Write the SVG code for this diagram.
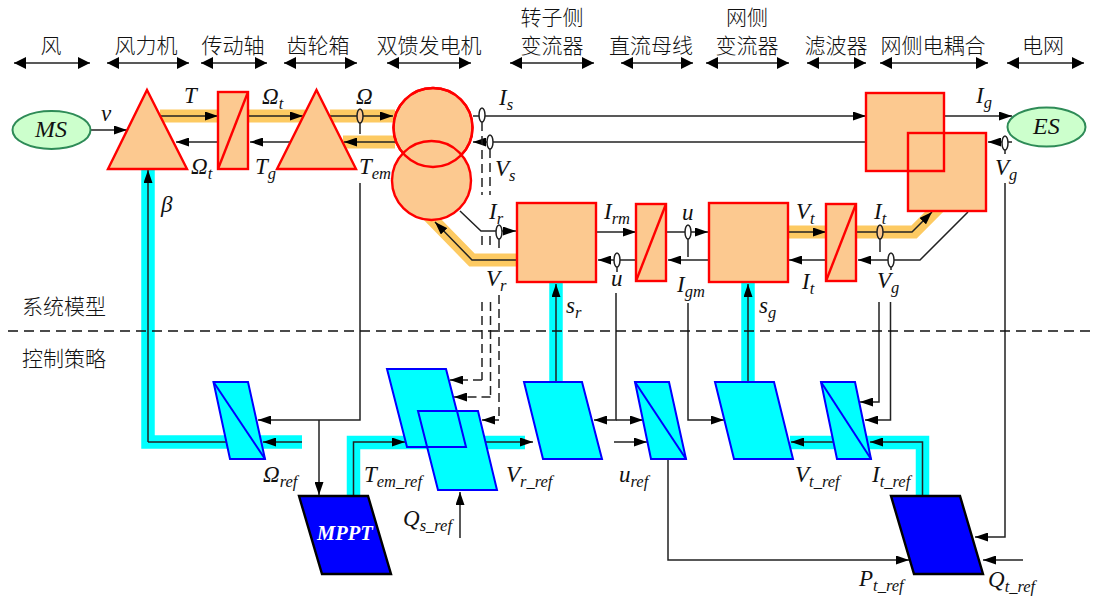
<svg xmlns="http://www.w3.org/2000/svg" width="1093" height="599" viewBox="0 0 1093 599">
<style>
text{font-family:"Liberation Serif","Noto Serif",serif;font-style:italic;fill:#111;font-size:23px}
.big{font-size:24px}
.sub{font-size:16.500px}
.cn{font-family:"Noto Sans CJK SC",sans-serif;font-style:normal;font-size:21px;font-weight:300;text-anchor:middle}
.pw{fill:#fcc990;stroke:#f00;stroke-width:2.400}
.ctl{fill:#0ff;stroke:#00f;stroke-width:2}
.dk{fill:#00f;stroke:#000;stroke-width:2.400}
.src{fill:#ccffcc;stroke:#2e8b57;stroke-width:2}
.or{fill:none;stroke:#fdca62;stroke-width:13}
.cy{fill:none;stroke:#0ff;stroke-width:13.500}
.l{fill:none;stroke:#222;stroke-width:1.500}
.a{marker-end:url(#ah)}
.d{stroke-dasharray:9 5}
.s{fill:#fff;stroke:#222;stroke-width:1.500}
.sy{fill:#fcc990;stroke:#222;stroke-width:1.500}
.ov{fill:none;stroke:#f00;stroke-width:2.400}
.w{marker-start:url(#wb);marker-end:url(#we)}
</style>
<defs>
<marker id="ah" markerUnits="userSpaceOnUse" markerWidth="14" markerHeight="9" refX="13" refY="4.500" orient="auto"><path d="M0,0L13,4.500L0,9Z" fill="#000"/></marker>
<marker id="we" markerUnits="userSpaceOnUse" markerWidth="13" markerHeight="13" refX="12" refY="6.500" orient="auto"><path d="M0,0.500L12,6.500L0,12.500Z" fill="#000"/></marker>
<marker id="wb" markerUnits="userSpaceOnUse" markerWidth="13" markerHeight="13" refX="0" refY="6.500" orient="auto"><path d="M12,0.500L0,6.500L12,12.500Z" fill="#000"/></marker>
</defs>
<g id="wide-paths">
<path class="or" d="M160,116H218M248,116H305M330,116H395M343,142H395M517,260H472L428,215M788,232H826M856,232H914L940,206"/>
<path class="cy" d="M148,170V442H302M353.500,496V442.500H525M556,283V382M748,283V382M790,442.500H922.500V496"/>
</g>
<g id="connectors">
<path class="l a" d="M90,130H127"/><path class="l a" d="M160,116H218"/><path class="l a" d="M248,116H303"/><path class="l a" d="M330,116H393"/>
<path class="l a" d="M395,142H344"/><path class="l a" d="M291,142H250"/><path class="l a" d="M218,142H176"/>
<path class="l a" d="M473,116H866"/><path class="l a" d="M866,142H473"/>
<path class="l a" d="M944,116H1012"/><path class="l a" d="M1012,142H988"/>
<path class="l d" d="M482,122V195M482,236V250M490,149V195M490,236V250M482,302V380"/><path class="l a d" d="M482,380H450"/>
<path class="l d" d="M490.500,302V397"/><path class="l a d" d="M490.500,397H454"/>
<path class="l d" d="M499,239V250M499,295V420"/><path class="l a d" d="M499,420H482"/>
<path class="l a" d="M460,211L481,231H516"/><path class="l a" d="M517,260H472L435,222"/>
<path class="l a" d="M596,232H636"/><path class="l a" d="M666,232H708"/><path class="l a" d="M708,260H668"/><path class="l a" d="M636,260H598"/>
<path class="l" d="M688,239V257M617,267V272M880,239V252M891,267V270M360,123V134M1005,149V154"/>
<path class="l a" d="M788,232H826"/><path class="l a" d="M856,232H912L932,212"/>
<path class="l a" d="M968,212L920,260H858"/><path class="l a" d="M826,260H789"/>
<path class="l a" d="M148,442V170"/><path class="l a" d="M556,382V284"/><path class="l a" d="M748,382V284"/>
<path class="l" d="M148,442H235"/><path class="l a" d="M302,442H263"/>
<path class="l a" d="M360,183V420H258"/><path class="l a" d="M319,420V495"/>
<path class="l a" d="M353.500,496V442H405"/><path class="l a" d="M478,442H533"/>
<path class="l a" d="M460,538V492"/>
<path class="l a" d="M616,293V420H594"/><path class="l a" d="M616,420H643"/><path class="l a" d="M614,442H647"/>
<path class="l a" d="M688,303V420H724"/>
<path class="l a" d="M879,302V402H860"/><path class="l a" d="M890.500,302V420H865"/>
<path class="l a" d="M922.500,496V442H870"/><path class="l a" d="M834,442H791"/>
<path class="l a" d="M1005,183V537H975"/><path class="l a" d="M1023,560H983"/>
<path class="l a" d="M668,459V560H909"/>
<path d="M8,331H1093" fill="none" stroke="#111" stroke-width="1.300" stroke-dasharray="10 6"/>
<g class="span">
<path class="l w" d="M14,63H90"/><path class="l w" d="M107,63H189"/><path class="l w" d="M201,63H267"/><path class="l w" d="M284,63H357"/><path class="l w" d="M387,63H471"/><path class="l w" d="M510,63H594"/><path class="l w" d="M621,63H693"/><path class="l w" d="M706,63H789"/><path class="l w" d="M807,63H866"/><path class="l w" d="M880,63H988"/><path class="l w" d="M1007,63H1084"/>
</g>
</g>
<g id="MS"><ellipse class="src" cx="51.500" cy="130" rx="39" ry="19"/><text class="big" x="35" y="137">MS</text></g>
<g id="ES"><ellipse class="src" cx="1046.500" cy="127" rx="39" ry="19.500"/><text class="big" x="1033" y="134">ES</text></g>
<g id="turbine"><path class="pw" d="M147,90L187,169H108Z"/></g>
<g id="shaft"><rect class="pw" x="218" y="92" width="30" height="77"/><path class="pw" d="M218,169L248,92"/></g>
<g id="gearbox"><path class="pw" d="M316.500,90L356,169H277Z"/></g>
<g id="dfig"><circle class="pw" cx="433" cy="127.500" r="39.500"/><circle class="pw" cx="431.500" cy="180.500" r="39.500"/><circle class="ov" cx="433" cy="127.500" r="39.500"/></g>
<g id="rsc"><rect class="pw" x="517" y="203" width="79" height="79"/></g>
<g id="dc"><rect class="pw" x="636" y="204" width="30" height="77"/><path class="pw" d="M636,281L666,204"/></g>
<g id="gsc"><rect class="pw" x="709" y="203" width="79" height="79"/></g>
<g id="filter"><rect class="pw" x="826" y="204" width="30" height="77"/><path class="pw" d="M826,281L856,204"/></g>
<g id="coupling"><rect class="pw" x="866" y="93" width="78" height="78"/><rect class="pw" x="908" y="133" width="78" height="78"/><path class="ov" d="M908,171H944V133"/></g>
<g id="sensors"><ellipse class="sy" cx="360" cy="116" rx="3" ry="7"/><ellipse class="s" cx="482" cy="115" rx="3" ry="7"/><ellipse class="s" cx="490" cy="142" rx="3" ry="7"/><ellipse class="s" cx="499" cy="232" rx="3" ry="7"/><ellipse class="s" cx="617" cy="260" rx="3" ry="7"/><ellipse class="s" cx="688" cy="232" rx="3" ry="7"/><ellipse class="sy" cx="880" cy="232" rx="3" ry="7"/><ellipse class="s" cx="891" cy="260" rx="3" ry="7"/><ellipse class="s" cx="1005" cy="143" rx="3" ry="7"/></g>
<g id="c-omega"><path class="ctl" d="M213.500,382H248L265,459H230Z"/><path class="ctl" d="M213.500,382L265,459"/></g>
<g id="c-a"><path class="ctl" d="M387,369H446L466,447H407Z"/></g>
<g id="c-b"><path class="ctl" d="M418,411H478L497,490H438Z"/><path fill="none" stroke="#00f" stroke-width="2" d="M427,447H466L457,411"/></g>
<g id="c-c"><path class="ctl" d="M524,382H582L602,459H543Z"/></g>
<g id="c-d"><path class="ctl" d="M635,382H669L686,459H651Z"/><path class="ctl" d="M635,382L686,459"/></g>
<g id="c-e"><path class="ctl" d="M715,382H774L793,459H734Z"/></g>
<g id="c-f"><path class="ctl" d="M821,382H855L871,459H837Z"/><path class="ctl" d="M821,382L871,459"/></g>
<g id="mppt"><path class="dk" d="M299,496H368L391,574H322Z"/><text x="317" y="540" font-weight="bold" style="fill:#fff;font-size:20.500px">MPPT</text></g>
<g id="mppt2"><path class="dk" d="M891,496H960L983,574H914Z"/></g>
<g id="labels">
<text class="cn" x="51" y="53">风</text><text class="cn" x="146" y="53">风力机</text><text class="cn" x="233" y="53">传动轴</text><text class="cn" x="318" y="53">齿轮箱</text><text class="cn" x="429" y="53">双馈发电机</text><text class="cn" x="552" y="25">转子侧</text><text class="cn" x="552" y="53">变流器</text><text class="cn" x="651" y="53">直流母线</text><text class="cn" x="747" y="25">网侧</text><text class="cn" x="747" y="53">变流器</text><text class="cn" x="836" y="53">滤波器</text><text class="cn" x="933" y="53">网侧电耦合</text><text class="cn" x="1043" y="53">电网</text>
<text class="cn" x="64" y="314">系统模型</text><text class="cn" x="64" y="366">控制策略</text>
<text x="101" y="121">v</text>
<text x="184" y="103">T</text>
<text x="262" y="104">Ω<tspan class="sub" dy="5">t</tspan></text>
<text x="356" y="104">Ω</text>
<text x="191" y="174">Ω<tspan class="sub" dy="5">t</tspan></text>
<text x="255" y="174">T<tspan class="sub" dy="5">g</tspan></text>
<text x="359" y="174">T<tspan class="sub" dy="5">em</tspan></text>
<text x="161" y="212">β</text>
<text x="499" y="105">I<tspan class="sub" dy="5">s</tspan></text>
<text x="495" y="176">V<tspan class="sub" dy="5">s</tspan></text>
<text x="489" y="219">I<tspan class="sub" dy="5">r</tspan></text>
<text x="486" y="286">V<tspan class="sub" dy="5">r</tspan></text>
<text x="604" y="219">I<tspan class="sub" dy="5">rm</tspan></text>
<text x="682" y="220">u</text>
<text x="611" y="286">u</text>
<text x="677" y="292">I<tspan class="sub" dy="5">gm</tspan></text>
<text x="566" y="313">s<tspan class="sub" dy="5">r</tspan></text>
<text x="759" y="313">s<tspan class="sub" dy="5">g</tspan></text>
<text x="796" y="219">V<tspan class="sub" dy="5">t</tspan></text>
<text x="802" y="289">I<tspan class="sub" dy="5">t</tspan></text>
<text x="874" y="219">I<tspan class="sub" dy="5">t</tspan></text>
<text x="877" y="288">V<tspan class="sub" dy="5">g</tspan></text>
<text x="976" y="103">I<tspan class="sub" dy="5">g</tspan></text>
<text x="995" y="175">V<tspan class="sub" dy="5">g</tspan></text>
<text x="263" y="482">Ω<tspan class="sub" dy="5">ref</tspan></text>
<text x="364" y="482">T<tspan class="sub" dy="5">em_ref</tspan></text>
<text x="506" y="482">V<tspan class="sub" dy="5">r_ref</tspan></text>
<text x="403" y="526">Q<tspan class="sub" dy="5">s_ref</tspan></text>
<text x="619" y="482">u<tspan class="sub" dy="5">ref</tspan></text>
<text x="795" y="482">V<tspan class="sub" dy="5">t_ref</tspan></text>
<text x="872" y="482">I<tspan class="sub" dy="5">t_ref</tspan></text>
<text x="859" y="586">P<tspan class="sub" dy="5">t_ref</tspan></text>
<text x="988" y="587">Q<tspan class="sub" dy="5">t_ref</tspan></text>
</g>
</svg>
